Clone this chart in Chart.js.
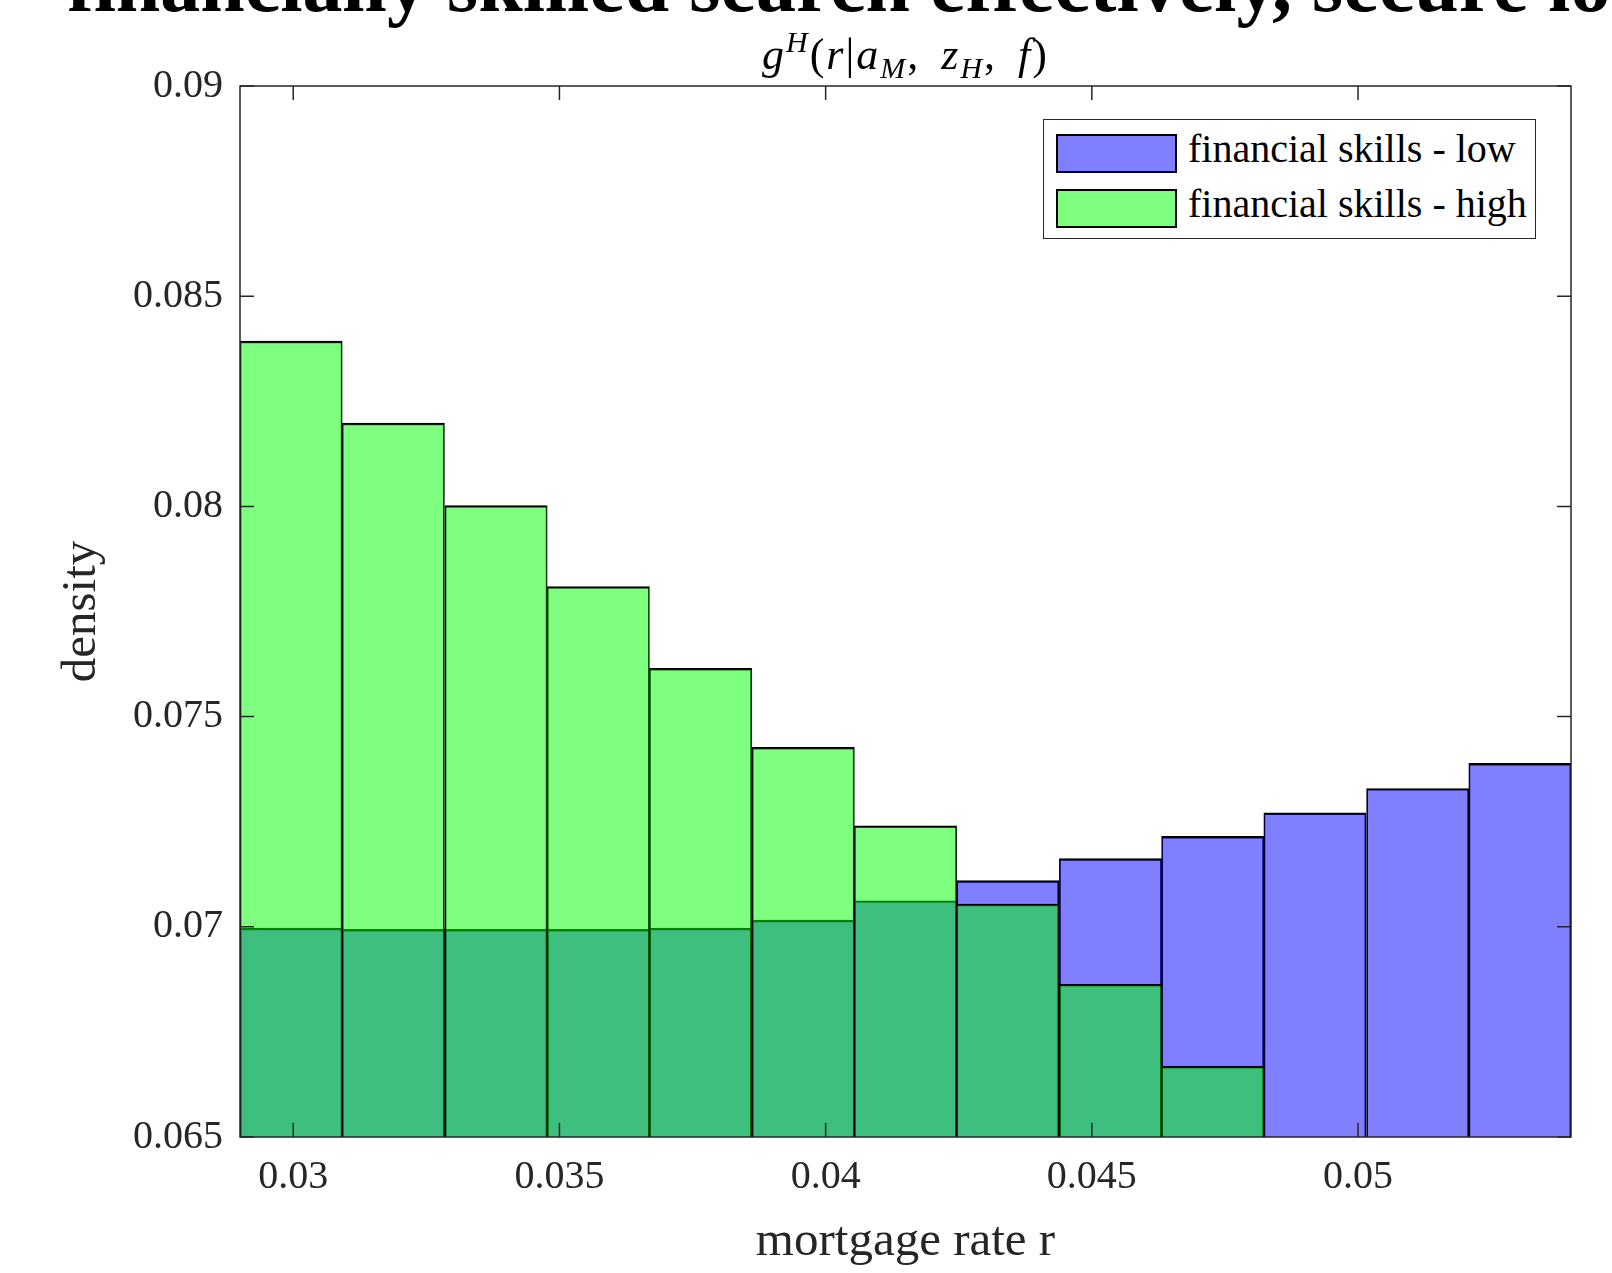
<!DOCTYPE html>
<html lang="en">
<head>
    <meta charset="UTF-8">
    <script src="https://cdn.jsdelivr.net/npm/chart.js"></script>
    <title>Mortgage rate density</title>
    <style>
        body {
            margin: 0;
            padding: 0;
            background: #fff;
            width: 1612px;
            height: 1273px;
            overflow: hidden;
            position: relative;
            font-family: 'Liberation Serif', serif;
            color: #262626;
        }
        #myChart {
            position: absolute;
            left: 0;
            top: 0;
        }
        /* figure title, cut off by the top edge */
        #suptitle {
            position: absolute;
            left: 67px;
            top: -56px;
            font-size: 80px;
            line-height: 80px;
            font-weight: bold;
            color: #000;
            white-space: nowrap;
        }
        #axtitle {
            position: absolute;
            left: 240px;
            width: 1331px;
            top: 33px;
            text-align: center;
            font-size: 44px;
            line-height: 44px;
            color: #000;
            white-space: nowrap;
            letter-spacing: 2px;
            word-spacing: 8px;
        }
        #axtitle .up, #axtitle .dn {
            font-size: 30px;
            line-height: 0;
            position: relative;
        }
        #axtitle .up { top: -17px; }
        #axtitle .dn { top: 9px; }
        #legend {
            position: absolute;
            left: 1043px;
            top: 119px;
            width: 491px;
            height: 118px;
            border: 1.5px solid #262626;
            background: #fff;
        }
        .row {
            position: absolute;
            left: 12px;
            height: 40px;
            display: flex;
            align-items: center;
        }
        .swatch {
            width: 117px;
            height: 35px;
            border: 2px solid #000;
            margin-right: 11px;
        }
        .row span {
            font-size: 40px;
            color: #000;
            position: relative;
            top: -5px;
        }
    </style>
</head>
<body>
    <div id="suptitle">financially skilled search effectively, secure lo</div>
    <canvas id="myChart" width="1612" height="1273"></canvas>
    <div id="axtitle"><i>g</i><span class="up"><i>H</i></span>(<i>r</i>|<i>a</i><span class="dn"><i>M</i></span>, <i>z</i><span class="dn"><i>H</i></span>, <i>f</i>)</div>
    <div id="legend"></div>
    <script>
        // histogram bins (centres) and heights
        const binCenters = [0.02996, 0.03188, 0.03381, 0.03573, 0.03765, 0.03958, 0.04150,
                            0.04342, 0.04535, 0.04727, 0.04919, 0.05112, 0.05304];
        const lowSkill = [0.06997, 0.06994, 0.06994, 0.06994, 0.06997, 0.07016, 0.07062,
                          0.07110, 0.07162, 0.07215, 0.07271, 0.07329, 0.07389];
        const highSkill = [0.08393, 0.08198, 0.08002, 0.07809, 0.07615, 0.07427, 0.07240,
                           0.07054, 0.06863, 0.06668, null, null, null];
        const seriesNames = ['financial skills - low', 'financial skills - high'];
        const xTicks = [0.03, 0.035, 0.04, 0.045, 0.05];
        const xTickLabels = ['0.03', '0.035', '0.04', '0.045', '0.05'];
        const yTicks = [0.065, 0.07, 0.075, 0.08, 0.085, 0.09];
        const yTickLabels = ['0.065', '0.07', '0.075', '0.08', '0.085', '0.09'];

        const lowFill = 'rgba(0, 0, 255, 0.5)';
        const highFill = 'rgba(0, 255, 0, 0.5)';
        const axisColor = '#262626';

        const toPoints = arr => arr.map((v, i) => ({ x: binCenters[i], y: v }));

        // frame and inward tick marks, MATLAB style
        const boxPlugin = {
            id: 'box',
            afterDatasetsDraw(chart) {
                const { ctx, chartArea: a, scales } = chart;
                const len = 14;
                ctx.save();
                ctx.strokeStyle = axisColor;
                ctx.lineWidth = 1.5;
                ctx.beginPath();
                xTicks.forEach(v => {
                    const px = scales.x.getPixelForValue(v);
                    ctx.moveTo(px, a.bottom); ctx.lineTo(px, a.bottom - len);
                    ctx.moveTo(px, a.top); ctx.lineTo(px, a.top + len);
                });
                yTicks.forEach(v => {
                    const py = scales.y.getPixelForValue(v);
                    ctx.moveTo(a.left, py); ctx.lineTo(a.left + len, py);
                    ctx.moveTo(a.right, py); ctx.lineTo(a.right - len, py);
                });
                ctx.stroke();
                ctx.strokeRect(a.left, a.top, a.right - a.left, a.bottom - a.top);
                ctx.restore();
            }
        };

        const barStyle = {
            borderColor: '#000',
            borderWidth: { top: 1.8, left: 1.1, right: 1.1, bottom: 0 },
            barPercentage: 1,
            categoryPercentage: 1,
            grouped: false
        };

        const config = {
            type: 'bar',
            data: {
                datasets: [
                    { label: seriesNames[0], data: toPoints(lowSkill), backgroundColor: lowFill, order: 1, ...barStyle },
                    { label: seriesNames[1], data: toPoints(highSkill), backgroundColor: highFill, order: 0, ...barStyle }
                ]
            },
            options: {
                responsive: false,
                animation: false,
                layout: { padding: { top: 86, right: 41, left: 0, bottom: 0 } },
                plugins: {
                    legend: { display: false },
                    tooltip: { enabled: false },
                    title: { display: false }
                },
                scales: {
                    x: {
                        type: 'linear',
                        min: 0.029,
                        max: 0.054,
                        offset: false,
                        afterBuildTicks: axis => { axis.ticks = xTicks.map(v => ({ value: v })); },
                        afterFit: axis => { axis.height = 136; },
                        grid: { display: false },
                        border: { display: false },
                        ticks: {
                            padding: 8,
                            color: axisColor,
                            font: { family: 'Liberation Serif', size: 40 },
                            maxRotation: 0,
                            callback: (v, i) => xTickLabels[i]
                        },
                        title: {
                            display: true,
                            text: 'mortgage rate r',
                            color: axisColor,
                            font: { family: 'Liberation Serif', size: 49 },
                            padding: { top: 0, bottom: 1 }
                        }
                    },
                    y: {
                        min: 0.065,
                        max: 0.09,
                        afterBuildTicks: axis => { axis.ticks = yTicks.map(v => ({ value: v })); },
                        afterFit: axis => { axis.width = 240; },
                        grid: { display: false },
                        border: { display: false },
                        ticks: {
                            padding: 9,
                            color: axisColor,
                            font: { family: 'Liberation Serif', size: 40 },
                            callback: (v, i) => yTickLabels[i]
                        },
                        title: {
                            display: true,
                            text: 'density',
                            color: axisColor,
                            font: { family: 'Liberation Serif', size: 49 },
                            padding: { top: 53, bottom: 0 }
                        }
                    }
                }
            },
            plugins: [boxPlugin]
        };

        const ctx = document.getElementById('myChart').getContext('2d');
        const myChart = new Chart(ctx, config);

        // legend box in the upper right corner
        const legend = document.getElementById('legend');
        [lowFill, highFill].forEach((fill, i) => {
            const row = document.createElement('div');
            row.className = 'row';
            row.style.top = (13 + i * 55) + 'px';
            row.innerHTML = `<div class="swatch" style="background:${fill}"></div><span>${seriesNames[i]}</span>`;
            legend.appendChild(row);
        });
    </script>
</body>
</html>
